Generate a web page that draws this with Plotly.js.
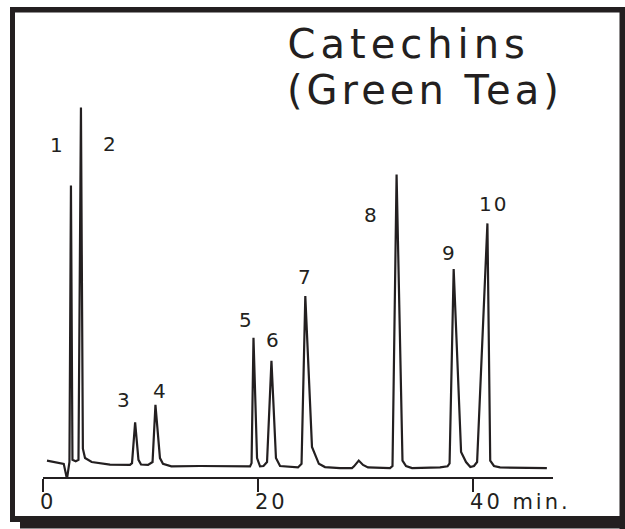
<!DOCTYPE html>
<html>
<head>
<meta charset="utf-8">
<script src="https://cdn.plot.ly/plotly-3.0.1.min.js"></script>
<style>
  html, body { margin: 0; padding: 0; background: #fff; }
  #chart { width: 625px; height: 529px; }
  .xtick text { letter-spacing: 3px; }
  g.annotation text { letter-spacing: 2px; }
  g.annotation[data-index="0"] text { letter-spacing: 5px; }
  g.annotation[data-index="1"] text { letter-spacing: 4px; }
</style>
</head>
<body>
<div id="chart"></div>
<script>
// Retention time (min) and detector signal (arbitrary units)
var timeMin = [0.37, 1.93, 2.23, 2.46, 2.60, 2.74, 3.04, 3.30, 3.53, 3.71, 3.91, 4.53, 6.23, 8.09,
  8.28, 8.57, 8.88, 9.12, 9.77, 10.19, 10.46, 10.88, 11.16, 11.94, 14.6, 19.26,
  19.40, 19.58, 19.91, 20.19, 20.51, 20.84, 21.25, 21.67, 22.05, 22.98, 23.72,
  24.05, 24.40, 25.02, 25.66, 26.23, 27.63, 28.74, 28.93, 29.37, 29.77, 30.23, 32.28,
  32.51, 32.89, 33.44, 33.77, 34.33, 36.93, 37.63, 37.82, 38.20, 38.89, 39.35, 39.75,
  40.09, 40.38, 41.34, 41.60, 41.95, 42.51, 46.87];
var signal = [1.5, 0.6, -3.6, 1.1, 77.9, 1.7, 1.3, 1.7, 99.6, 4.8, 2.2, 1.1, 0.4, 0.3,
  0.8, 12.1, 1.7, 0.4, 0.3, 1.1, 17.0, 2.2, 0.6, -0.1, 0.0, -0.1,
  0.8, 35.6, 2.2, -0.1, 0.0, 1.1, 29.2, 2.2, 0.0, -0.3, -0.4,
  0.6, 47.2, 5.3, 0.6, -0.3, -0.6, -0.6, -0.1, 1.5, 0.3, -0.4, -0.6,
  0.0, 81.0, 1.5, 0.0, -0.6, -0.4, -0.1, 0.7, 54.7, 3.9, 1.1, -0.3,
  0.0, 1.1, 67.4, 1.5, 0.0, -0.4, -0.6];

// Peak labels and where they sit (time, signal)
var peakLabels = ['1', '2', '3', '4', '5', '6', '7', '8', '9', '10'];
var peakLabelTime = [1.38, 6.31, 7.57, 10.90, 18.91, 21.40, 24.40, 30.60, 37.79, 41.86];
var peakLabelSignal = [89.2, 89.6, 18.2, 20.7, 40.7, 35.1, 52.4, 69.8, 59.2, 72.9];

// Axis ticks
var tickValues = [0, 20, 40];
var tickLabels = ['0', '20', '40 min.'];

var titleLines = ['Catechins', '(Green Tea)'];

var W = 625, H = 529;
var M = {l: 43, r: 72, t: 60, b: 52};
var PW = W - M.l - M.r, PH = H - M.t - M.b;
function px(x) { return (x - M.l) / PW; }
function py(y) { return (H - M.b - y) / PH; }

var ink = '#231f20';
var font = 'DejaVu Sans, Verdana, sans-serif';

var trace = {
  x: timeMin, y: signal, type: 'scatter', mode: 'lines',
  line: {color: ink, width: 2.2, shape: 'linear'},
  hoverinfo: 'skip'
};

var annotations = [
  {text: titleLines[0], xref: 'paper', yref: 'paper', x: px(408), y: py(44), xanchor: 'center', yanchor: 'middle',
   showarrow: false, font: {family: font, size: 40, color: ink}},
  {text: titleLines[1], xref: 'paper', yref: 'paper', x: px(425), y: py(90), xanchor: 'center', yanchor: 'middle',
   showarrow: false, font: {family: font, size: 40, color: ink}}
];
for (var i = 0; i < peakLabels.length; i++) {
  annotations.push({text: peakLabels[i], xref: 'x', yref: 'y', x: peakLabelTime[i], y: peakLabelSignal[i],
    xanchor: 'center', yanchor: 'middle', showarrow: false, font: {family: font, size: 20, color: ink}});
}

function bar(x0, y0, x1, y1) {
  return {type: 'rect', xref: 'paper', yref: 'paper', x0: px(x0), x1: px(x1), y0: py(y0), y1: py(y1),
    fillcolor: ink, line: {width: 0}, layer: 'above'};
}
var shapes = [
  bar(10, 7, 620, 12.5),
  bar(10, 7, 15, 522),
  bar(619.5, 7, 625, 529),
  bar(10, 516, 625, 522),
  bar(20, 522, 625, 528.5)
];

var layout = {
  width: W, height: H,
  margin: M,
  paper_bgcolor: '#ffffff', plot_bgcolor: '#ffffff',
  showlegend: false,
  xaxis: {
    range: [0, 47.44], showgrid: false, zeroline: false,
    showline: true, linecolor: ink, linewidth: 2,
    ticks: 'outside', ticklen: 13, tickwidth: 2, tickcolor: ink,
    tickvals: tickValues, ticktext: tickLabels,
    ticklabelposition: 'outside right',
    ticklabelshift: -5, ticklabelstandoff: 5,
    tickfont: {family: font, size: 21, color: ink},
    fixedrange: true
  },
  yaxis: {range: [-3.06, 112.8], visible: false, fixedrange: true},
  annotations: annotations,
  shapes: shapes
};

Plotly.newPlot('chart', [trace], layout, {staticPlot: true, displayModeBar: false});
</script>
</body>
</html>
